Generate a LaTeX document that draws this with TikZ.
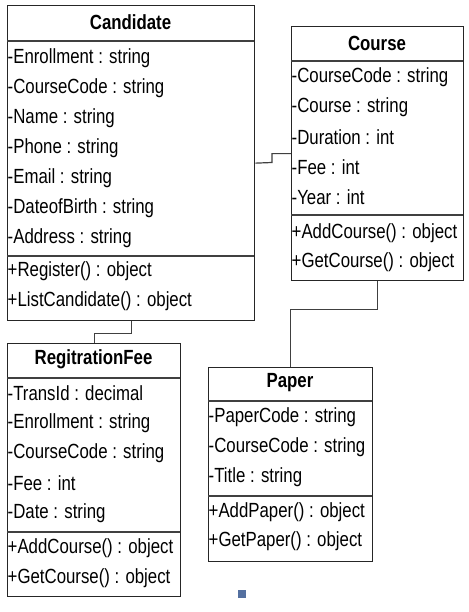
\documentclass[tikz,border=0pt]{standalone}
\usepackage{fontspec}
\setmainfont{Liberation Sans}
\newfontfamily\condfont[FakeStretch=0.82]{Liberation Sans}
\begin{document}
\begin{tikzpicture}[x=1pt,y=-1pt,
  classbox/.style={draw=black!85, line width=1.3pt, fill=white, inner sep=0pt, anchor=north west},
  sepline/.style={draw=black!75, line width=1.4pt},
  conn/.style={draw=black!75, line width=1.2pt},
  attr/.style={anchor=west, inner sep=0pt, font=\condfont\fontsize{20.5}{22}\selectfont},
  title/.style={inner sep=0pt, font=\condfont\bfseries\fontsize{20.5}{22}\selectfont}]
\useasboundingbox (0,0) rectangle (468,612);
\fill[white] (0,0) rectangle (468,612);

% Candidate
\node[classbox, minimum width=247pt, minimum height=315pt] (cand) at (7,5) {};
\draw[sepline] (7,41) -- (254,41);
\draw[sepline] (7,256) -- (254,256);
\node[title] (candt) at (130.5,22) {Candidate};
\node[attr] (c1) at (7.5,58) {-Enrollment : string};
\node[attr] (c2) at (7.5,88) {-CourseCode : string};
\node[attr] (c3) at (7.5,118) {-Name : string};
\node[attr] (c4) at (7.5,148) {-Phone : string};
\node[attr] (c5) at (7.5,178) {-Email : string};
\node[attr] (c6) at (7.5,208) {-DateofBirth : string};
\node[attr] (c7) at (7.5,238) {-Address : string};
\node[attr] (c8) at (7.5,271) {+Register() : object};
\node[attr] (c9) at (7.5,301) {+ListCandidate() : object};

% Course
\node[classbox, minimum width=172pt, minimum height=254pt] (course) at (291,26) {};
\draw[sepline] (291,61) -- (463,61);
\draw[sepline] (291,215) -- (463,215);
\node[title] (courset) at (377,43) {Course};
\node[attr] (k1) at (291.5,77) {-CourseCode : string};
\node[attr] (k2) at (291.5,107) {-Course : string};
\node[attr] (k3) at (291.5,137) {-Duration : int};
\node[attr] (k4) at (291.5,167) {-Fee : int};
\node[attr] (k5) at (291.5,197) {-Year : int};
\node[attr] (k6) at (291.5,233) {+AddCourse() : object};
\node[attr] (k7) at (291.5,262) {+GetCourse() : object};

% RegitrationFee
\node[classbox, minimum width=173pt, minimum height=253pt] (reg) at (7,343) {};
\draw[sepline] (7,378) -- (180,378);
\draw[sepline] (7,532) -- (180,532);
\node[title] (regt) at (93.5,359) {RegitrationFee};
\node[attr] (r1) at (7.5,393) {-TransId : decimal};
\node[attr] (r2) at (7.5,423) {-Enrollment : string};
\node[attr] (r3) at (7.5,453) {-CourseCode : string};
\node[attr] (r4) at (7.5,483) {-Fee : int};
\node[attr] (r5) at (7.5,513) {-Date : string};
\node[attr] (r6) at (7.5,548) {+AddCourse() : object};
\node[attr] (r7) at (7.5,578) {+GetCourse() : object};

% Paper
\node[classbox, minimum width=164pt, minimum height=194pt] (paper) at (208,367) {};
\draw[sepline] (208,401) -- (372,401);
\draw[sepline] (208,496) -- (372,496);
\node[title] (papert) at (290,383) {Paper};
\node[attr] (p1) at (208.5,417) {-PaperCode : string};
\node[attr] (p2) at (208.5,447) {-CourseCode : string};
\node[attr] (p3) at (208.5,477) {-Title : string};
\node[attr] (p4) at (208.5,512) {+AddPaper() : object};
\node[attr] (p5) at (208.5,541) {+GetPaper() : object};

% connectors
\draw[conn] (cand.east) -- (272,162.5) |- (course.west);
\draw[conn] (course.south) -- ++(0,28) -| (paper.north);
\draw[conn] (cand.south) -- ++(0,12) -| (reg.north);

% small mark
\fill[fill={rgb,255:red,84;green,112;blue,160}] (238,590) rectangle (246,598);
\end{tikzpicture}
\end{document}
